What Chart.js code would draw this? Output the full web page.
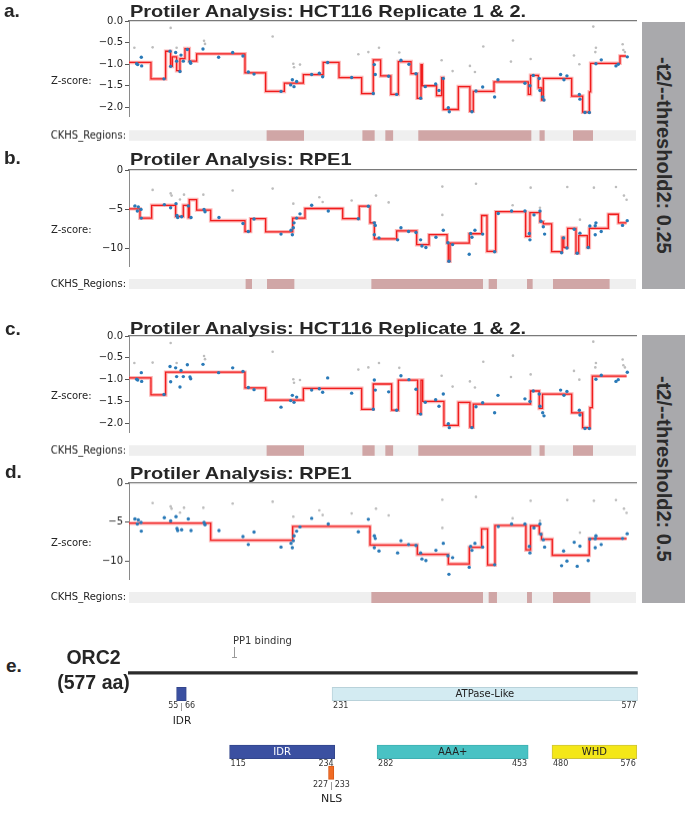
<!DOCTYPE html>
<html>
<head>
<meta charset="utf-8">
<script src="https://cdn.jsdelivr.net/npm/chart.js@4.4.1/dist/chart.umd.min.js"></script>
<style>
  html, body { margin: 0; padding: 0; background: #fff; }
  #page { position: relative; width: 692px; height: 814px; overflow: hidden; }
  canvas { position: absolute; }
  .lbl { position: absolute; white-space: nowrap; line-height: 1; color: #262626; }
  .side { position: absolute; left: 642px; width: 43px; background: #a9a9ac;
          display: flex; align-items: center; justify-content: center; }
  .side span { writing-mode: vertical-rl; font-family: 'Liberation Sans', Arial, sans-serif;
               font-weight: bold; font-size: 20px; line-height: 1; color: #2b2b2b; }
  .tick { position: absolute; background: #9a9a9a; }
</style>
</head>
<body>
<div id="page"></div>
<script>
// ===== Data =====
const AA_MAX = 577;

// HCT116 sgRNA z-scores (panels a & c)
const hctBlueX = [8.7, 9.9, 14.0, 14.4, 39.8, 46.7, 47.4, 53.1, 54.2, 58, 59.2, 61.8, 66.4, 69.4, 70.2, 84.2, 102, 118, 129.7, 135.8,
  142.3, 173, 184, 185.9, 187.8, 190.8, 207.9, 216.6, 220.4, 226.1, 253.4, 278, 279.2, 280.3, 295.5, 304.6, 309.5, 318.6, 326.6, 331.9,
  337.2, 349, 352.8, 357.7, 363.4, 364.5, 390.3, 394.9, 402.5, 416.1, 419.9, 450.6, 456.3, 460.1, 466.9, 467.7, 470.8, 472.3, 491.2, 495,
  498.4, 512.5, 513.2, 518.9, 523.9, 531.4, 537.5, 554.2, 556.8, 567.1];
const hctBlueY = [-0.99, -1.01, -0.84, -1.04, -1.34, -0.70, -1.05, -0.73, -0.93, -1.17, -0.79, -0.93, -0.66, -0.94, -0.98, -0.65, -0.84, -0.73, -0.81, -1.18,
  -1.23, -1.63, -1.48, -1.36, -1.52, -1.40, -1.24, -1.21, -1.29, -0.96, -1.31, -1.68, -1.01, -1.24, -1.28, -1.70, -0.91, -1.00, -1.22, -1.79,
  -1.52, -1.46, -1.61, -1.33, -2.01, -2.10, -2.10, -1.62, -1.53, -1.76, -1.36, -1.44, -1.50, -1.26, -1.33, -1.61, -1.76, -1.83, -1.24, -1.36,
  -1.27, -1.70, -1.81, -2.12, -2.12, -0.99, -0.90, -1.04, -1.00, -0.83];
const hctGrayX = [6.1, 26.9, 47.4, 54.2, 85.4, 86.5, 163.5, 187, 187.8, 194.6, 261, 272.4, 284.5, 307.6, 355.8,
  368.3, 388, 393.7, 403.2, 434.7, 437, 457.1, 506.4, 512.5, 528.4, 531.4, 530.7, 561.8, 562.6, 564.4];
const hctGrayY = [-0.62, -0.61, -0.16, -0.62, -0.46, -0.53, -0.36, -0.99, -1.07, -1.01, -0.77, -0.72, -0.62, -0.73, -0.91,
  -1.16, -1.04, -1.18, -0.59, -0.94, -0.45, -0.88, -0.80, -1.00, -0.13, -0.62, -0.72, -0.54, -0.67, -0.72];

// RPE1 sgRNA z-scores (panels b & d)
const rpeBlueX = [6.8, 9.5, 10.6, 13.7, 14.0, 40.2, 47.4, 53.5, 54.6, 55.4, 59.9, 67.5, 70.6, 85.4, 86.5, 102.4, 129.7, 135.8, 142.3, 173,
  184.4, 185.9, 187, 187.8, 190.8, 194.6, 207.9, 226.8, 261, 272.4, 279.2, 280.3, 279.2, 284.5, 305.7, 309.5, 318.2, 326.6,
  331.9, 333.4, 337.9, 349.3, 357.7, 363, 364.1, 368.3, 387.2, 388.8, 390.3, 393.7, 402.5, 416.1, 420.3, 435.4, 450.6, 455.6, 456.3, 460.9,
  467.7, 468.8, 471.5, 473, 492.3, 494.6, 498.4, 506.7, 510.1, 513.2, 522.6, 524.5, 530.6, 531.4, 530.6, 537.4, 561.7, 567];
const rpeBlueY = [-4.60, -5.25, -4.72, -5.05, -6.16, -4.43, -4.84, -4.31, -5.83, -6.08, -5.99, -4.60, -6.08, -5.05, -5.34, -6.08, -6.86, -7.88, -6.28, -8.21,
  -7.72, -8.29, -7.39, -6.77, -6.16, -5.62, -4.52, -5.25, -6.24, -4.64, -6.77, -7.10, -8.29, -8.70, -8.95, -7.39, -7.88, -8.00,
  -8.95, -9.73, -9.93, -8.62, -7.72, -9.32, -11.7, -9.56, -10.8, -8.13, -8.62, -7.72, -8.21, -10.47, -5.58, -5.25, -5.25, -8.13, -8.95, -5.75,
  -5.25, -6.57, -7.27, -8.21, -10.6, -8.70, -10.0, -7.59, -10.67, -8.09, -9.93, -7.18, -7.14, -6.77, -8.29, -7.88, -7.10, -6.49];
const rpeGrayX = [6.1, 26.9, 47.4, 48.5, 58, 62.6, 84.6, 118, 163.5, 187, 216.6, 220.4,
  253.4, 281.1, 295.5, 356.6, 356.6, 394.9, 436.6, 457.1, 467.7, 498.8, 513.2, 529.1, 554.2, 563.3, 566.3];
const rpeGrayY = [-4.64, -2.55, -3.00, -3.28, -3.78, -3.16, -3.16, -2.63, -2.38, -4.31, -3.49, -4.10,
  -3.90, -3.28, -4.15, -2.13, -5.75, -1.77, -4.52, -2.26, -4.84, -2.18, -6.36, -2.26, -2.18, -3.28, -3.82];

// segment means: start of each segment and its level, last segment ends at *End
const hctStepX25 = [0, 25, 41.7, 47.4, 49.3, 54.2, 58, 63.7, 68.6, 77, 132, 155.5, 176.8, 198.4, 221, 239, 264.8, 278, 286.4, 298, 306.5,
  321, 328, 332.3, 333.8, 350, 355.8, 357.7, 374.8, 388, 391.8, 415.4, 454.4, 457, 465.8, 469.6, 471.5, 503.8, 516.3, 523.9, 525.4, 558.8];
const hctStepY25 = [-0.96, -1.34, -0.70, -1.05, -0.83, -1.15, -0.87, -0.64, -0.93, -0.76, -1.20, -1.63, -1.44, -1.24, -0.96, -1.31, -1.68, -0.90, -1.27, -1.70, -0.94,
  -1.22, -1.79, -1.01, -1.50, -1.73, -1.31, -2.05, -1.52, -2.09, -1.63, -1.41, -1.70, -1.26, -1.55, -1.83, -1.33, -1.74, -2.11, -1.64, -0.98, -0.81];
const hctStepEnd25 = 565.6;

const rpeStepX25 = [0, 12.5, 25.8, 53.1, 61.8, 67.5, 68.6, 77, 93, 132, 138.4, 155.5, 186.3, 200.3, 243.2, 262, 274.3, 279.2, 304.6, 327.4,
  341.5, 362, 363.4, 365.3, 387.2, 401.3, 407.4, 417.3, 451.4, 456.3, 467.7, 471.5, 481, 493, 494.8, 499.2, 508.7, 511.8, 521.6, 523.9, 545.5, 556.9];
const rpeStepY25 = [-4.97, -6.16, -4.52, -5.95, -4.52, -6.10, -3.80, -5.13, -6.49, -7.88, -6.24, -7.92, -6.16, -4.93, -6.24, -4.64, -6.77, -8.83, -7.80, -9.56,
  -8.29, -9.36, -11.7, -9.36, -8.17, -5.83, -10.43, -5.34, -8.50, -5.46, -6.65, -6.90, -10.47, -8.62, -9.93, -7.47, -10.67, -8.42, -9.93, -7.47, -5.67, -6.77];
const rpeStepEnd25 = 566.3;

const hctStepX50 = [0, 25, 41.7, 132, 155.5, 198.4, 264.8, 278, 298.9, 306.5, 328.5, 332.3, 334.2, 358.4, 374.8, 388, 391.8, 457, 466.9, 470.6, 503.8, 516.3, 524.6, 527.3];
const hctStepY50 = [-0.96, -1.35, -0.83, -1.19, -1.47, -1.20, -1.68, -1.10, -1.70, -1.01, -1.78, -1.01, -1.50, -2.05, -1.52, -2.09, -1.56, -1.26, -1.66, -1.33, -1.76, -2.10, -1.64, -0.92];
const hctStepEnd50 = 566.3;

const rpeStepX50 = [0, 93, 186.3, 274.3, 328.1, 363.4, 387.3, 401.3, 408.1, 416.5, 451.7, 457, 466.9, 469.5, 481.7, 523.8];
const rpeStepY50 = [-5.14, -7.33, -5.56, -7.94, -9.14, -10.37, -8.23, -5.88, -10.5, -5.43, -8.56, -5.47, -6.50, -7.20, -9.26, -7.12];
const rpeStepEnd50 = 566.3;

// CKHS regions (aa start / end)
const ckhsHctStart = [157, 266, 292.1, 329.6, 467.6, 505.7];
const ckhsHctEnd = [198.8, 279.2, 300.2, 457.5, 472.7, 527.7];
const ckhsRpe25Start = [133.1, 157.4, 276.2, 409.7, 453.3, 482.9];
const ckhsRpe25End = [139.6, 187.8, 402.5, 418.4, 459, 546.6];
const ckhsRpe50Start = [276.2, 409.7, 453.3, 482.9];
const ckhsRpe50End = [402.5, 418.4, 458.2, 524.6];

// y ticks
const hctTicks = [-2, -1.5, -1, -0.5, 0];
const hctTickLabels = ['\u22122.0', '\u22121.5', '\u22121.0', '\u22120.5', '0.0'];
const rpeTicks = [-10, -5, 0];
const rpeTickLabels = ['\u221210', '\u22125', '0'];

// ORC2 domain map (panel e)
const motifNames = ['IDR', 'ATPase-Like'];
const motifStart = [55, 231];
const motifEnd = [66, 577];
const domainNames = ['IDR', 'AAA+', 'WHD'];
const domainStart = [115, 282, 480];
const domainEnd = [234, 453, 576];
const nlsName = 'NLS';
const nlsStart = 227;
const nlsEnd = 233;
const pp1Site = 120;

// ===== Helpers =====
const page = document.getElementById('page');
const MONO = "'DejaVu Sans', Verdana, sans-serif";
const SANS = "'Liberation Sans', Arial, sans-serif";

function addCanvas(left, top, w, h) {
    const cv = document.createElement('canvas');
    cv.width = w; cv.height = h;
    cv.style.left = left + 'px'; cv.style.top = top + 'px';
    cv.style.width = w + 'px'; cv.style.height = h + 'px';
    page.appendChild(cv);
    return cv;
}

function addText(text, x, baseline, size, opts = {}) {
    const d = document.createElement('div');
    d.className = 'lbl';
    d.textContent = text;
    d.style.fontSize = size + 'px';
    d.style.fontFamily = opts.family || MONO;
    d.style.fontWeight = opts.bold ? 'bold' : 'normal';
    if (opts.color) d.style.color = opts.color;
    d.style.left = x + 'px';
    d.style.top = (baseline - 0.846 * size) + 'px';
    const tx = opts.align === 'center' ? '-50%' : opts.align === 'right' ? '-100%' : '0';
    d.style.transform = 'translateX(' + tx + ')' + (opts.scaleY ? ' scaleY(' + opts.scaleY + ')' : '');
    d.style.transformOrigin = '0 ' + (0.846 * size) + 'px';
    page.appendChild(d);
}

function addTick(x, y, w, h) {
    const d = document.createElement('div');
    d.className = 'tick';
    d.style.left = x + 'px'; d.style.top = y + 'px';
    d.style.width = w + 'px'; d.style.height = h + 'px';
    page.appendChild(d);
}

const toPoints = (xs, ys) => xs.map((x, i) => ({ x, y: ys[i] }));

function stepPoints(xs, ys, end) {
    const pts = toPoints(xs, ys);
    pts.push({ x: end, y: ys[ys.length - 1] });
    return pts;
}

const BASE = {
    responsive: false,
    animation: false,
    events: [],
    plugins: { legend: { display: false }, tooltip: { enabled: false } }
};

// ===== Z-score panels =====
const PAD_TOP = 8;

function zPlot(p) {
    const top = p.spine - PAD_TOP;
    const cv = addCanvas(0, top, 640, p.bottom - top);
    new Chart(cv, {
        type: 'scatter',
        data: {
            datasets: [
                { data: toPoints(p.blueX, p.blueY), pointRadius: 1.7, backgroundColor: '#2a7ab8', borderWidth: 0 },
                { type: 'line', data: stepPoints(p.stepX, p.stepY, p.stepEnd), stepped: true,
                  borderColor: '#f01c1c', borderWidth: 1.3, pointRadius: 0, fill: false },
                { type: 'line', data: stepPoints(p.stepX, p.stepY, p.stepEnd), stepped: true,
                  borderColor: 'rgba(250,90,90,0.45)', borderWidth: 3.6, pointRadius: 0, fill: false },
                { data: toPoints(p.grayX, p.grayY), pointRadius: 1.3, backgroundColor: '#bdbdbd', borderWidth: 0 }
            ]
        },
        options: {
            ...BASE,
            layout: { padding: { left: 0, right: 4, top: PAD_TOP, bottom: 0 } },
            scales: {
                x: {
                    type: 'linear', position: 'top', min: 0, max: AA_MAX,
                    ticks: { display: false }, grid: { display: false },
                    border: { color: '#7a7a7a', width: 1.2 },
                    afterFit: s => { s.height = 0; }
                },
                y: {
                    type: 'linear', min: p.min, max: 0,
                    border: { color: '#8a8a8a', width: 1 },
                    grid: { display: true, drawOnChartArea: false, drawTicks: true, tickLength: 4, color: '#555' },
                    ticks: {
                        font: { family: MONO, size: 10 }, color: '#222', padding: 2,
                        callback: (v, i) => p.tickLabels[i]
                    },
                    afterBuildTicks: s => { s.ticks = p.ticks.map(v => ({ value: v })); },
                    afterFit: s => { s.width = 129; s.paddingTop = 0; s.paddingBottom = 0; }
                }
            }
        }
    });
    addText('Z-score:', 51, p.spine + 63.5, 10);
}

function ckhsRow(top, bottom, starts, ends) {
    const cv = addCanvas(0, top - 3, 640, bottom - top + 6);
    const label = 'CKHS_Regions:';
    new Chart(cv, {
        type: 'bar',
        data: {
            labels: [label],
            datasets: [
                { data: starts.map((s, i) => ({ x: [s, ends[i]], y: label })), backgroundColor: '#d0a6a6' },
                { data: [{ x: [0, AA_MAX], y: label }], backgroundColor: '#efefef' }
            ]
        },
        options: {
            ...BASE,
            indexAxis: 'y',
            datasets: { bar: { grouped: false, barPercentage: 1, categoryPercentage: 1, borderWidth: 0 } },
            layout: { padding: { left: 0, right: 4, top: 3, bottom: 3 } },
            scales: {
                x: { type: 'linear', min: 0, max: AA_MAX, display: false },
                y: {
                    grid: { display: false, drawTicks: false }, border: { display: false },
                    ticks: { font: { family: MONO, size: 10 }, color: '#222', padding: 3 },
                    afterFit: s => { s.width = 129; s.paddingTop = 0; s.paddingBottom = 0; }
                }
            }
        }
    });
}

const panels = [
    { spine: 21, bottom: 120, min: -2.2, ticks: hctTicks, tickLabels: hctTickLabels,
      blueX: hctBlueX, blueY: hctBlueY, grayX: hctGrayX, grayY: hctGrayY,
      stepX: hctStepX25, stepY: hctStepY25, stepEnd: hctStepEnd25 },
    { spine: 170, bottom: 270, min: -12.3, ticks: rpeTicks, tickLabels: rpeTickLabels,
      blueX: rpeBlueX, blueY: rpeBlueY, grayX: rpeGrayX, grayY: rpeGrayY,
      stepX: rpeStepX25, stepY: rpeStepY25, stepEnd: rpeStepEnd25 },
    { spine: 336, bottom: 436, min: -2.2, ticks: hctTicks, tickLabels: hctTickLabels,
      blueX: hctBlueX, blueY: hctBlueY, grayX: hctGrayX, grayY: hctGrayY,
      stepX: hctStepX50, stepY: hctStepY50, stepEnd: hctStepEnd50 },
    { spine: 483.3, bottom: 582.7, min: -12.3, ticks: rpeTicks, tickLabels: rpeTickLabels,
      blueX: rpeBlueX, blueY: rpeBlueY, grayX: rpeGrayX, grayY: rpeGrayY,
      stepX: rpeStepX50, stepY: rpeStepY50, stepEnd: rpeStepEnd50 }
];
panels.forEach(zPlot);

ckhsRow(130, 140.7, ckhsHctStart, ckhsHctEnd);
ckhsRow(279, 289, ckhsRpe25Start, ckhsRpe25End);
ckhsRow(445, 455.7, ckhsHctStart, ckhsHctEnd);
ckhsRow(592.3, 603.3, ckhsRpe50Start, ckhsRpe50End);

// titles and panel letters
const TITLE = { bold: true, family: SANS, color: '#262626', scaleY: 0.84 };
addText('Protiler Analysis: HCT116 Replicate 1 & 2.', 130, 17, 20, TITLE);
addText('Protiler Analysis: RPE1', 130, 165, 20, TITLE);
addText('Protiler Analysis: HCT116 Replicate 1 & 2.', 130, 333.5, 20, TITLE);
addText('Protiler Analysis: RPE1', 130, 478.5, 20, TITLE);

const LETTER = { bold: true, family: SANS, color: '#262626' };
addText('a.', 4, 17, 19, LETTER);
addText('b.', 4, 164, 19, LETTER);
addText('c.', 5, 335, 19, LETTER);
addText('d.', 5, 478, 19, LETTER);
addText('e.', 6, 672, 19, LETTER);

// side boxes
function sideBox(top, height, text) {
    const d = document.createElement('div');
    d.className = 'side';
    d.style.top = top + 'px';
    d.style.height = height + 'px';
    const s = document.createElement('span');
    s.textContent = text;
    d.appendChild(s);
    page.appendChild(d);
}
sideBox(22, 267, '-t2/--threshold2: 0.25');
sideBox(335, 268, '-t2/--threshold2: 0.5');

// ===== Panel e: ORC2 domain map =====
const TRACK = { backbone: 0, motif: 1, domain: 3.72, nls: 4.7 };
const E_TOP = 630;
const boxFill = { 'IDR': '#3b50a1', 'ATPase-Like': '#d3ebf2', 'AAA+': '#49c2c4', 'WHD': '#f4e718', 'NLS': '#f06b24' };
const boxEdge = { 'IDR': '#33468c', 'ATPase-Like': '#b9d2da', 'AAA+': '#3fb0b2', 'WHD': '#cfc43a', 'NLS': '#d95a18' };

const boxes = [
    ...motifNames.map((n, i) => ({ name: n, s: motifStart[i], e: motifEnd[i], track: TRACK.motif })),
    ...domainNames.map((n, i) => ({ name: n, s: domainStart[i], e: domainEnd[i], track: TRACK.domain })),
    { name: nlsName, s: nlsStart, e: nlsEnd, track: TRACK.nls }
];

const eCanvas = addCanvas(0, E_TOP, 692, 184);
const eChart = new Chart(eCanvas, {
    type: 'bar',
    data: {
        datasets: [
            { data: boxes.map(b => ({ x: [b.s, b.e], y: b.track })),
              backgroundColor: boxes.map(b => boxFill[b.name]),
              borderColor: boxes.map(b => boxEdge[b.name]),
              borderWidth: 1, borderSkipped: false, barThickness: 13.4 },
            { data: [{ x: [0, AA_MAX], y: TRACK.backbone }], backgroundColor: '#2b2b2b', barThickness: 2.6 }
        ]
    },
    options: {
        ...BASE,
        indexAxis: 'y',
        datasets: { bar: { grouped: false } },
        layout: { padding: { left: 128, right: 54.3, top: 0, bottom: 0 } },
        scales: {
            x: { type: 'linear', min: 0, max: AA_MAX, display: false },
            y: { type: 'linear', min: -1.47, max: 6.1, reverse: true, display: false }
        }
    }
});

const ex = v => eChart.scales.x.getPixelForValue(v);
const ey = v => E_TOP + eChart.scales.y.getPixelForValue(v);

addText('ORC2', 93.5, 664, 19.5, { bold: true, family: SANS, align: 'center', color: '#262626' });
addText('(577 aa)', 93.5, 689, 19.5, { bold: true, family: SANS, align: 'center', color: '#262626' });

// PP1 binding site marker
addText('PP1 binding', ex(pp1Site) - 1, 644.5, 10, { color: '#333' });
addTick(ex(pp1Site), 647, 1, 10);
addTick(ex(pp1Site) - 2, 656.5, 5, 1);

boxes.forEach(b => {
    const cy = ey(b.track);
    const x0 = ex(b.s), x1 = ex(b.e);
    const narrow = (x1 - x0) < 20;
    const numBase = cy + 15;
    if (narrow) {
        const cx = (x0 + x1) / 2;
        addTick(cx, cy + 9, 1, 8);
        addText(String(b.s), cx - 3, numBase, 8, { align: 'right', color: '#333' });
        addText(String(b.e), cx + 3.5, numBase, 8, { color: '#333' });
        addText(b.name, cx + 0.5, cy + 29.5, b.name === nlsName ? 11 : 10.5, { align: 'center', color: '#222' });
    } else {
        addText(b.name, (x0 + x1) / 2, cy + 3.8, 10, { align: 'center', color: b.name === 'IDR' ? '#ffffff' : '#222' });
        addText(String(b.s), x0 + 1, numBase, 8, { color: '#333' });
        addText(String(b.e), x1 - 1, numBase, 8, { align: 'right', color: '#333' });
    }
});
</script>
</body>
</html>
